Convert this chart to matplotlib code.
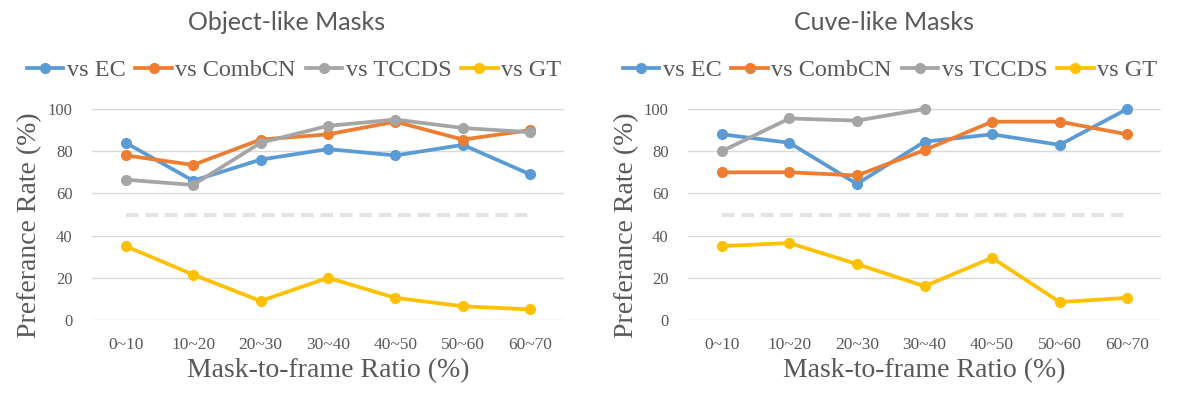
import matplotlib.pyplot as plt
import numpy as np

plt.rcParams['lines.scale_dashes'] = False

# categories and series values
ratios = ['0~10', '10~20', '20~30', '30~40', '40~50', '50~60', '60~70']
series_names = ['vs EC', 'vs CombCN', 'vs TCCDS', 'vs GT']

obj_ec = [84, 66, 76, 81, 78, 83, 69]
obj_combcn = [78, 73.5, 85.5, 88, 94, 85.5, 90]
obj_tccds = [66.5, 64, 84, 92, 95, 91, 89]
obj_gt = [35, 21.5, 9, 20, 10.5, 6.5, 5]

cur_ec = [88, 84, 64.5, 84.5, 88, 83, 100]
cur_combcn = [70, 70, 68.5, 80.5, 94, 94, 88]
cur_tccds = [80, 95.5, 94.5, 100, np.nan, np.nan, np.nan]
cur_gt = [35, 36.5, 26.5, 16, 29.5, 8.5, 10.5]

chance = [50, 50, 50, 50, 50, 50, 50]

colors = ['#5B9BD5', '#ED7D31', '#A5A5A5', '#FFC000']
text_grey = '#595959'
serif = ['Liberation Serif', 'DejaVu Serif']

fig = plt.figure(figsize=(11.96, 3.95), dpi=100)
W, H = 1196, 395

# title, data, axes left/right px, title centre, legend centre, ylabel centre
panels = [
    ('Object-like Masks', [obj_ec, obj_combcn, obj_tccds, obj_gt], (92, 564), 287, 294, 30),
    ('Cuve-like Masks', [cur_ec, cur_combcn, cur_tccds, cur_gt], (688, 1161), 884, 890, 627),
]

x = np.arange(len(ratios))
for title, data, (left, right), tx, lx, yl in panels:
    aw = right - left
    ax = fig.add_axes([left / W, 1 - 320 / H, aw / W, 211 / H])
    ax.plot(x, chance, color='#E3E3E3', lw=3, dashes=(9, 5), zorder=2)
    handles = []
    for vals, c, name in zip(data, colors, series_names):
        h, = ax.plot(x, vals, color=c, lw=2.7, marker='o', markersize=7,
                     label=name, clip_on=False, zorder=3)
        handles.append(h)
    ax.set_xlim(-0.5, len(ratios) - 0.5)
    ax.set_ylim(0, 100)
    ax.set_yticks(range(0, 101, 20))
    ax.set_xticks(x)
    ax.set_xticklabels(ratios)
    ax.grid(axis='y', color='#D9D9D9', lw=1)
    ax.set_axisbelow(True)
    for s in ax.spines.values():
        s.set_visible(False)
    ax.tick_params(axis='x', length=0, labelsize=12.5, labelcolor=text_grey, pad=12)
    ax.tick_params(axis='y', length=0, labelsize=12, labelcolor=text_grey, pad=14)
    for lab in ax.get_xticklabels() + ax.get_yticklabels():
        lab.set_family(serif)
    ax.set_xlabel('Mask-to-frame Ratio (%)', fontsize=20, color=text_grey,
                  family=serif, labelpad=4)
    ax.set_ylabel('Preferance Rate (%)', fontsize=20, color=text_grey,
                  family=serif, va='center')
    ax.yaxis.set_label_coords((yl - left) / aw, (320 - 225.5) / 211)

    fig.text(tx / W, 1 - 22 / H, title, ha='center', va='center',
             fontsize=18, color=text_grey, family=['Lato', 'DejaVu Sans'])
    fig.legend(handles=handles, loc='center', bbox_to_anchor=(lx / W, 1 - 70 / H),
               ncol=4, frameon=False, handlelength=1.5, handletextpad=0.15,
               columnspacing=0.4, prop={'family': serif, 'size': 17.5},
               labelcolor=text_grey)

fig.savefig('out.png', dpi=100)
